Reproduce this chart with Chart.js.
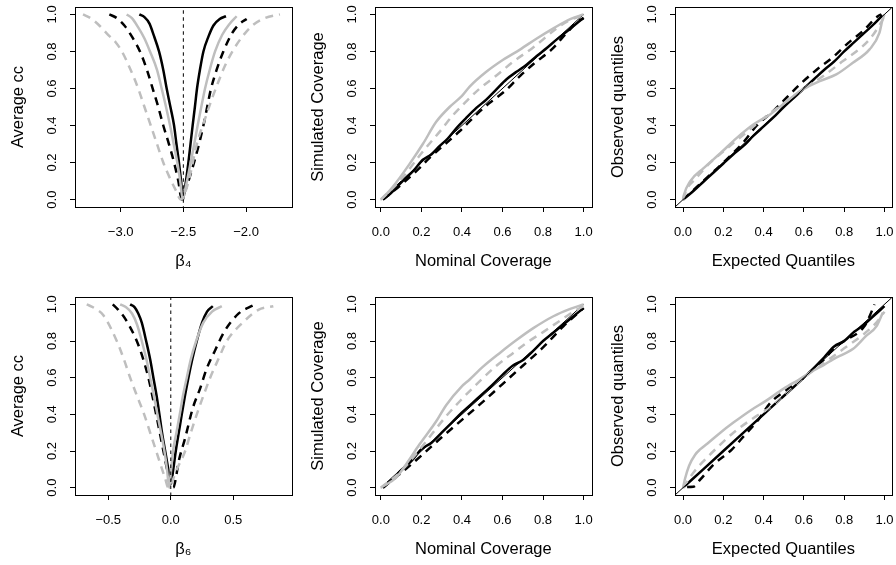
<!DOCTYPE html>
<html>
<head>
<meta charset="utf-8">
<script src="https://cdn.jsdelivr.net/npm/chart.js@4.4.1/dist/chart.umd.min.js"></script>
<style>
  html, body { margin: 0; padding: 0; background: #fff; }
  #wrap { position: relative; width: 896px; height: 565px; overflow: hidden; }
  canvas { position: absolute; }
</style>
</head>
<body>
<div id="wrap">
  <canvas id="p1" width="300" height="282" style="left:0;top:0"></canvas>
  <canvas id="p2" width="300" height="282" style="left:300px;top:0"></canvas>
  <canvas id="p3" width="296" height="282" style="left:600px;top:0"></canvas>
  <canvas id="p4" width="300" height="276" style="left:0;top:289px"></canvas>
  <canvas id="p5" width="300" height="276" style="left:300px;top:289px"></canvas>
  <canvas id="p6" width="296" height="276" style="left:600px;top:289px"></canvas>
</div>
<script>
// tick values
const unitTicks = [0, 0.2, 0.4, 0.6, 0.8, 1.0];
const b4Ticks = [-3.0, -2.5, -2.0];
const b6Ticks = [-0.5, 0.0, 0.5];
const b4True = -2.5;
const b6True = 0.0;

// beta4: average confidence curves
const b4BlackSolid = [[-2.851,1.0],[-2.81,0.985],[-2.77,0.95],[-2.735,0.885],[-2.694,0.80],[-2.66,0.70],[-2.633,0.60],[-2.603,0.50],[-2.574,0.40],[-2.555,0.30],[-2.535,0.20],[-2.518,0.10],[-2.503,0.0],
  [-2.49,0.05],[-2.475,0.12],[-2.46,0.20],[-2.443,0.30],[-2.426,0.40],[-2.408,0.50],[-2.391,0.60],[-2.368,0.70],[-2.34,0.80],[-2.30,0.88],[-2.26,0.94],[-2.21,0.975],[-2.16,0.99]];
const b4GreySolid = [[-2.952,1.0],[-2.91,0.98],[-2.86,0.93],[-2.81,0.87],[-2.766,0.80],[-2.71,0.70],[-2.673,0.60],[-2.638,0.50],[-2.606,0.40],[-2.577,0.30],[-2.548,0.20],[-2.525,0.10],[-2.505,0.0],
  [-2.49,0.04],[-2.465,0.12],[-2.442,0.20],[-2.413,0.30],[-2.386,0.40],[-2.357,0.50],[-2.327,0.60],[-2.29,0.70],[-2.247,0.80],[-2.19,0.89],[-2.13,0.95],[-2.075,0.99]];
const b4BlackDashed = [[-3.09,1.0],[-3.03,0.98],[-2.97,0.94],[-2.91,0.88],[-2.846,0.80],[-2.79,0.70],[-2.745,0.60],[-2.70,0.50],[-2.66,0.40],[-2.615,0.30],[-2.574,0.20],[-2.54,0.10],[-2.513,0.0],
  [-2.49,0.04],[-2.45,0.12],[-2.415,0.20],[-2.375,0.30],[-2.34,0.40],[-2.31,0.50],[-2.279,0.60],[-2.235,0.70],[-2.181,0.80],[-2.11,0.90],[-2.05,0.95],[-1.995,0.975]];
const b4GreyDashed = [[-3.30,1.0],[-3.24,0.98],[-3.17,0.94],[-3.10,0.89],[-3.04,0.85],[-2.99,0.80],[-2.92,0.70],[-2.86,0.60],[-2.81,0.50],[-2.76,0.40],[-2.71,0.30],[-2.66,0.20],[-2.61,0.12],[-2.56,0.05],[-2.52,0.0],
  [-2.48,0.05],[-2.44,0.15],[-2.41,0.25],[-2.38,0.33],[-2.33,0.43],[-2.28,0.53],[-2.23,0.62],[-2.17,0.72],[-2.10,0.81],[-2.03,0.88],[-1.95,0.94],[-1.85,0.98],[-1.73,1.0]];

// beta6: average confidence curves
const b6BlackSolid = [[-0.325,1.0],[-0.29,0.985],[-0.26,0.95],[-0.232,0.90],[-0.197,0.80],[-0.165,0.70],[-0.139,0.60],[-0.113,0.50],[-0.091,0.40],[-0.07,0.30],[-0.045,0.20],[-0.02,0.10],[0.0,0.02],
  [0.02,0.10],[0.04,0.20],[0.064,0.30],[0.088,0.40],[0.113,0.50],[0.141,0.60],[0.172,0.70],[0.208,0.80],[0.25,0.90],[0.29,0.96],[0.336,0.99]];
const b6GreySolid = [[-0.405,1.0],[-0.36,0.985],[-0.31,0.95],[-0.27,0.89],[-0.232,0.80],[-0.195,0.70],[-0.165,0.60],[-0.135,0.50],[-0.107,0.40],[-0.078,0.30],[-0.051,0.20],[-0.03,0.10],[-0.013,0.0],
  [0.0,0.08],[0.018,0.20],[0.045,0.30],[0.072,0.40],[0.097,0.50],[0.128,0.60],[0.16,0.70],[0.203,0.80],[0.26,0.90],[0.33,0.96],[0.408,0.99]];
const b6BlackDashed = [[-0.464,1.0],[-0.42,0.97],[-0.365,0.922],[-0.272,0.80],[-0.22,0.70],[-0.179,0.60],[-0.147,0.50],[-0.117,0.40],[-0.088,0.30],[-0.059,0.20],[-0.019,0.07],[0.02,0.0],
  [0.04,0.05],[0.061,0.136],[0.115,0.271],[0.176,0.434],[0.235,0.542],[0.288,0.651],[0.355,0.75],[0.427,0.85],[0.541,0.949],[0.661,0.995]];
const b6GreyDashed = [[-0.672,1.0],[-0.60,0.975],[-0.539,0.94],[-0.432,0.80],[-0.375,0.70],[-0.325,0.60],[-0.27,0.50],[-0.213,0.40],[-0.165,0.30],[-0.117,0.20],[-0.045,0.05],[-0.019,0.0],
  [0.048,0.10],[0.115,0.20],[0.16,0.30],[0.208,0.40],[0.26,0.50],[0.315,0.60],[0.38,0.70],[0.448,0.80],[0.581,0.904],[0.70,0.97],[0.82,0.99]];

// simulated vs nominal coverage (top row)
const cov1GreySolid = [[0,0],[0.04,0.045],[0.074,0.09],[0.14,0.19],[0.207,0.30],[0.273,0.42],[0.339,0.50],[0.4,0.56],[0.438,0.61],[0.52,0.69],[0.603,0.755],[0.686,0.81],[0.769,0.87],[0.851,0.925],[0.934,0.975],[1,1]];
const cov1GreyDashed = [[0,0],[0.1,0.11],[0.2,0.25],[0.3,0.38],[0.355,0.455],[0.421,0.53],[0.488,0.60],[0.57,0.67],[0.653,0.745],[0.75,0.82],[0.868,0.925],[0.934,0.97],[1,0.995]];
const cov1BlackSolid = [[0.01,0],[0.05,0.035],[0.107,0.1],[0.16,0.155],[0.207,0.215],[0.25,0.245],[0.289,0.288],[0.33,0.33],[0.372,0.385],[0.42,0.44],[0.471,0.495],[0.52,0.54],[0.57,0.595],[0.62,0.65],[0.669,0.69],[0.72,0.73],[0.769,0.775],[0.82,0.82],[0.868,0.865],[0.92,0.91],[0.95,0.937],[1,0.982]];
const cov1BlackThin = [[0,0],[1,1]];
const cov1BlackDashed = [[0.01,0],[0.1,0.08],[0.2,0.18],[0.231,0.216],[0.314,0.297],[0.388,0.369],[0.471,0.459],[0.537,0.523],[0.612,0.586],[0.686,0.667],[0.76,0.739],[0.843,0.811],[0.917,0.901],[0.975,0.964],[1,0.98]];

// simulated vs nominal coverage (bottom row)
const cov2GreySolid = [[0,0],[0.074,0.054],[0.124,0.127],[0.19,0.235],[0.273,0.362],[0.322,0.45],[0.397,0.55],[0.438,0.59],[0.504,0.66],[0.587,0.735],[0.669,0.805],[0.752,0.87],[0.851,0.935],[0.934,0.975],[1,1]];
const cov2GreyDashed = [[0,0],[0.1,0.09],[0.2,0.22],[0.322,0.39],[0.388,0.47],[0.496,0.59],[0.57,0.665],[0.653,0.735],[0.719,0.79],[0.802,0.85],[0.876,0.905],[0.95,0.96],[1,0.99]];
const cov2BlackSolid = [[0.01,0],[0.05,0.04],[0.1,0.095],[0.15,0.145],[0.2,0.21],[0.25,0.245],[0.3,0.3],[0.35,0.355],[0.4,0.41],[0.45,0.46],[0.5,0.51],[0.55,0.56],[0.6,0.615],[0.65,0.665],[0.7,0.695],[0.75,0.745],[0.8,0.80],[0.85,0.845],[0.9,0.89],[0.95,0.935],[1,0.98]];
const cov2BlackThin = [[0,0],[1,1]];
const cov2BlackDashed = [[0.01,0],[0.1,0.08],[0.2,0.175],[0.3,0.275],[0.4,0.37],[0.5,0.465],[0.6,0.565],[0.7,0.665],[0.8,0.765],[0.9,0.88],[1,0.98]];

// observed vs expected quantiles (top row)
const qq1BlackSolid = [[0,0],[0.05,0.045],[0.1,0.095],[0.15,0.145],[0.2,0.195],[0.25,0.245],[0.3,0.29],[0.35,0.345],[0.4,0.395],[0.45,0.445],[0.5,0.5],[0.55,0.55],[0.6,0.6],[0.65,0.65],[0.7,0.7],[0.75,0.745],[0.8,0.8],[0.85,0.85],[0.9,0.9],[0.95,0.95],[0.99,0.995]];
const qq1BlackDashed = [[0,0],[0.1,0.1],[0.2,0.2],[0.3,0.31],[0.366,0.4],[0.45,0.48],[0.514,0.55],[0.588,0.63],[0.662,0.7],[0.745,0.77],[0.819,0.845],[0.893,0.91],[0.967,0.99],[0.985,1.0]];
const qq1GreySolid = [[0,0],[0.003,0.02],[0.036,0.1],[0.102,0.17],[0.185,0.25],[0.267,0.333],[0.349,0.405],[0.432,0.46],[0.514,0.53],[0.596,0.595],[0.679,0.64],[0.761,0.676],[0.843,0.739],[0.926,0.811],[0.975,0.9],[0.99,0.97],[1,1]];
const qq1GreyDashed = [[0,0],[0.02,0.06],[0.06,0.11],[0.135,0.2],[0.2,0.26],[0.3,0.35],[0.4,0.44],[0.5,0.52],[0.6,0.6],[0.7,0.67],[0.794,0.748],[0.86,0.8],[0.926,0.865],[0.98,0.95],[1,0.99]];

// observed vs expected quantiles (bottom row)
const qq2GreySolid = [[0,0],[0.01,0.05],[0.03,0.12],[0.06,0.18],[0.086,0.21],[0.12,0.24],[0.185,0.3],[0.25,0.355],[0.333,0.42],[0.415,0.476],[0.498,0.539],[0.58,0.593],[0.646,0.638],[0.7,0.67],[0.745,0.70],[0.8,0.73],[0.843,0.756],[0.909,0.828],[0.96,0.88],[0.992,0.955]];
const qq2GreyDashed = [[0,0],[0.05,0.08],[0.102,0.145],[0.168,0.217],[0.25,0.3],[0.35,0.38],[0.45,0.45],[0.5,0.5],[0.6,0.6],[0.7,0.68],[0.8,0.76],[0.9,0.84],[0.96,0.9],[1,0.96]];
const qq2BlackSolid = [[0,0],[0.05,0.05],[0.1,0.1],[0.2,0.2],[0.3,0.3],[0.4,0.4],[0.5,0.5],[0.6,0.6],[0.7,0.71],[0.75,0.77],[0.8,0.8],[0.85,0.85],[0.9,0.89],[0.95,0.94],[1,0.99]];
const qq2BlackDashed = [[0.02,0.004],[0.05,0.005],[0.086,0.045],[0.152,0.127],[0.242,0.208],[0.308,0.289],[0.374,0.371],[0.432,0.461],[0.514,0.533],[0.6,0.6],[0.7,0.7],[0.75,0.76],[0.8,0.8],[0.9,0.88],[0.942,0.976],[0.95,1.0]];

const identityLine = [[-1,-1],[2,2]];

const GREY = '#bebebe';
const DASH = [8, 6];

Chart.defaults.font.family = '"Liberation Sans", Arial, Helvetica, sans-serif';
Chart.defaults.color = '#000';

// R-like box around the plot region
const framePlugin = {
  id: 'frame',
  afterDraw(chart) {
    const a = chart.chartArea;
    const ctx = chart.ctx;
    ctx.save();
    ctx.strokeStyle = '#000';
    ctx.lineWidth = 1;
    ctx.strokeRect(Math.round(a.left) + 0.5, Math.round(a.top) + 0.5,
      Math.round(a.right - a.left), Math.round(a.bottom - a.top));
    ctx.restore();
  }
};

function fmt(v) {
  return (v < 0 ? '\u2212' : '') + Math.abs(v).toFixed(1);
}

function series(pts, color, width, dash, smooth) {
  return {
    data: pts.map(p => ({ x: p[0], y: p[1] })),
    borderColor: color,
    borderWidth: width,
    borderDash: dash || [],
    pointRadius: 0,
    fill: false,
    cubicInterpolationMode: smooth ? 'monotone' : 'default',
    tension: 0
  };
}

function vline(x) {
  return series([[x, -1], [x, 2]], '#000', 1, [3.5, 3.5], false);
}

function makePanel(id, o) {
  return new Chart(document.getElementById(id), {
    type: 'line',
    data: { datasets: o.datasets },
    plugins: [framePlugin],
    options: {
      responsive: false,
      animation: false,
      devicePixelRatio: 1,
      layout: { padding: { left: 0, top: o.top, right: o.right, bottom: o.bottom } },
      plugins: { legend: { display: false }, tooltip: { enabled: false } },
      scales: {
        x: {
          type: 'linear',
          min: o.xMin, max: o.xMax, bounds: 'data',
          afterBuildTicks: s => { s.ticks = o.xTicks.map(v => ({ value: v })); },
          afterFit: s => { s.height = 70; s.paddingLeft = 0; s.paddingRight = 0; },
          ticks: { autoSkip: false, minRotation: 0, maxRotation: 0, padding: 13, font: { size: 13 }, callback: fmt },
          grid: { drawOnChartArea: false, drawTicks: true, tickLength: 5, color: '#000', lineWidth: 1 },
          border: { display: false },
          title: { display: true, text: o.xTitle, font: { size: 16.5 }, padding: { top: 0, bottom: 6 } }
        },
        y: {
          type: 'linear',
          min: -0.04, max: 1.04, bounds: 'data',
          afterBuildTicks: s => { s.ticks = unitTicks.map(v => ({ value: v })); },
          afterFit: s => { s.width = 75; s.paddingTop = 0; s.paddingBottom = 0; },
          ticks: { autoSkip: false, minRotation: 90, maxRotation: 90, crossAlign: 'center', padding: 9, font: { size: 13 }, callback: fmt },
          grid: { drawOnChartArea: false, drawTicks: true, tickLength: 5, color: '#000', lineWidth: 1 },
          border: { display: false },
          title: { display: true, text: o.yTitle, font: { size: 16.5 }, padding: { top: 8.4, bottom: 0 } }
        }
      }
    }
  });
}

const TOP1 = { top: 7, bottom: 5 };
const TOP2 = { top: 8, bottom: 0 };

makePanel('p1', Object.assign({}, TOP1, {
  right: 8.3, xMin: -3.364, xMax: -1.636, xTicks: b4Ticks,
  xTitle: '\u03B2\u2084', yTitle: 'Average cc',
  datasets: [
    vline(b4True),
    series(b4GreyDashed, GREY, 2.5, DASH, true),
    series(b4GreySolid, GREY, 2.5, null, true),
    series(b4BlackDashed, '#000', 2.5, DASH, true),
    series(b4BlackSolid, '#000', 2.5, null, true)
  ]
}));

makePanel('p2', Object.assign({}, TOP1, {
  right: 8.3, xMin: -0.029, xMax: 1.040, xTicks: unitTicks,
  xTitle: 'Nominal Coverage', yTitle: 'Simulated Coverage',
  datasets: [
    series(cov1GreyDashed, GREY, 2.5, DASH, true),
    series(cov1GreySolid, GREY, 2.5, null, true),
    series(cov1BlackThin, '#000', 1, null, false),
    series(cov1BlackDashed, '#000', 2.5, DASH, true),
    series(cov1BlackSolid, '#000', 2.5, null, true)
  ]
}));

makePanel('p3', Object.assign({}, TOP1, {
  right: 4.3, xMin: -0.04, xMax: 1.036, xTicks: unitTicks,
  xTitle: 'Expected Quantiles', yTitle: 'Observed quantiles',
  datasets: [
    series(identityLine, '#000', 1, null, false),
    series(qq1GreyDashed, GREY, 2.5, DASH, true),
    series(qq1GreySolid, GREY, 2.5, null, true),
    series(qq1BlackDashed, '#000', 2.5, DASH, true),
    series(qq1BlackSolid, '#000', 2.5, null, true)
  ]
}));

makePanel('p4', Object.assign({}, TOP2, {
  right: 8.3, xMin: -0.766, xMax: 0.967, xTicks: b6Ticks,
  xTitle: '\u03B2\u2086', yTitle: 'Average cc',
  datasets: [
    vline(b6True),
    series(b6GreyDashed, GREY, 2.5, DASH, true),
    series(b6GreySolid, GREY, 2.5, null, true),
    series(b6BlackDashed, '#000', 2.5, DASH, true),
    series(b6BlackSolid, '#000', 2.5, null, true)
  ]
}));

makePanel('p5', Object.assign({}, TOP2, {
  right: 8.3, xMin: -0.029, xMax: 1.040, xTicks: unitTicks,
  xTitle: 'Nominal Coverage', yTitle: 'Simulated Coverage',
  datasets: [
    series(cov2GreyDashed, GREY, 2.5, DASH, true),
    series(cov2GreySolid, GREY, 2.5, null, true),
    series(cov2BlackThin, '#000', 1, null, false),
    series(cov2BlackDashed, '#000', 2.5, DASH, true),
    series(cov2BlackSolid, '#000', 2.5, null, true)
  ]
}));

makePanel('p6', Object.assign({}, TOP2, {
  right: 4.3, xMin: -0.04, xMax: 1.036, xTicks: unitTicks,
  xTitle: 'Expected Quantiles', yTitle: 'Observed quantiles',
  datasets: [
    series(identityLine, '#000', 1, null, false),
    series(qq2GreyDashed, GREY, 2.5, DASH, true),
    series(qq2GreySolid, GREY, 2.5, null, true),
    series(qq2BlackDashed, '#000', 2.5, DASH, true),
    series(qq2BlackSolid, '#000', 2.5, null, true)
  ]
}));
</script>
</body>
</html>
